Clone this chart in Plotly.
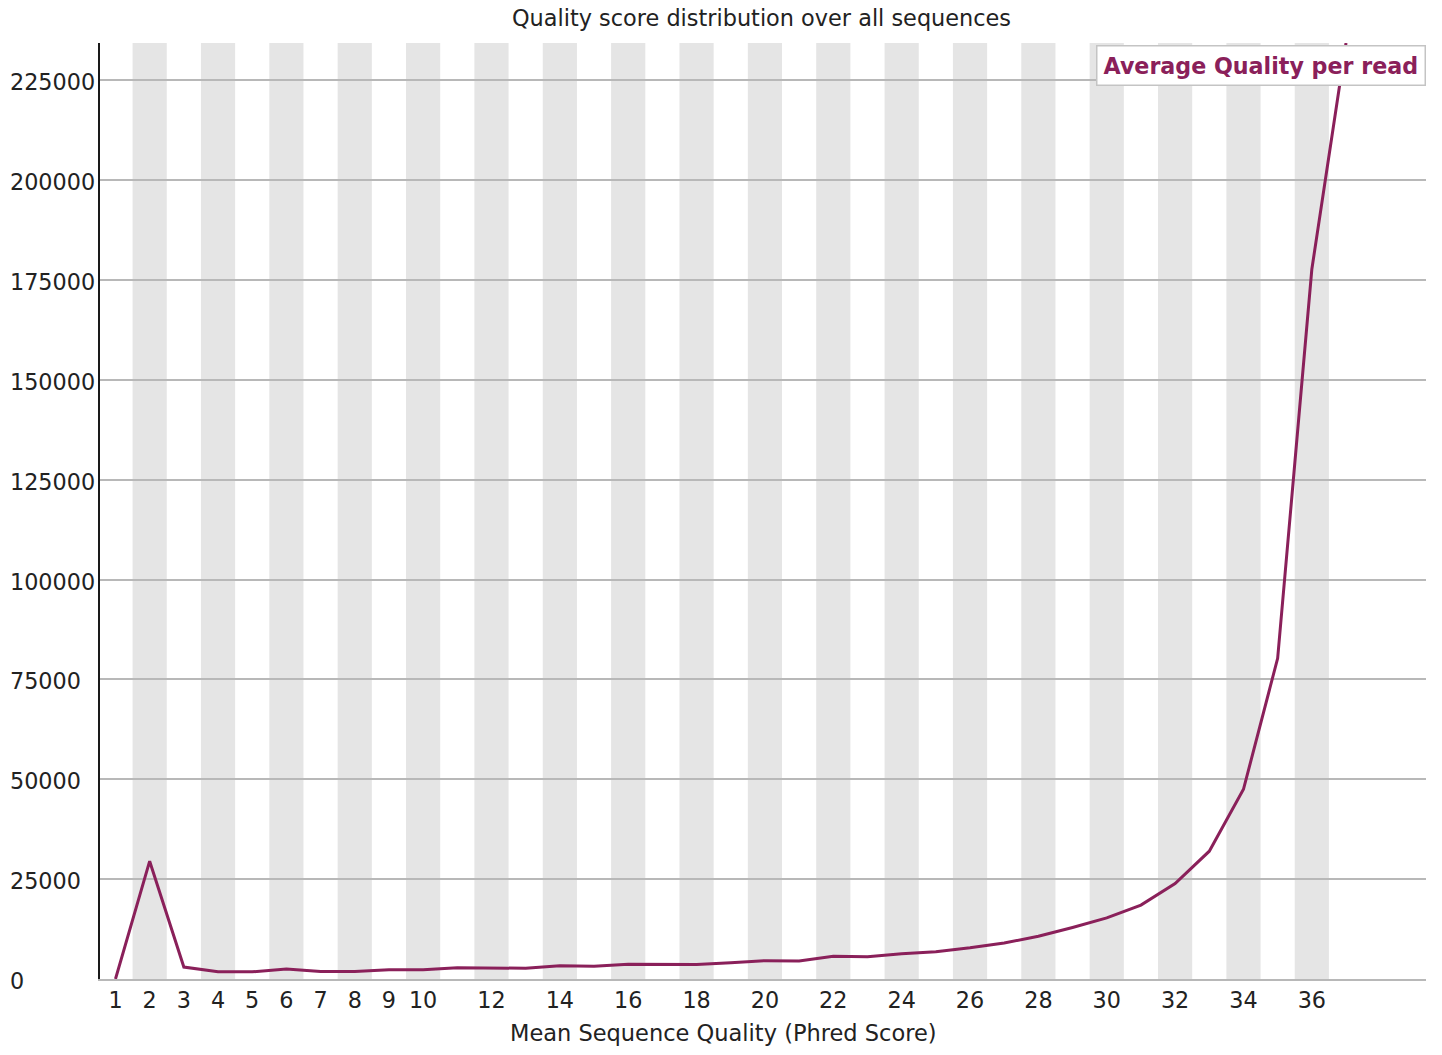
import plotly.graph_objects as go

# Mean sequence quality (Phred) vs number of reads
quality = list(range(1, 38))
read_counts = [
    0, 29500, 3000, 1800, 1800, 2500, 1900, 1900, 2300, 2300,
    2800, 2800, 2700, 3300, 3200, 3700, 3700, 3600, 4100, 4600,
    4500, 5700, 5600, 6300, 6800, 7800, 9000, 10700, 12900, 15300,
    18500, 23900, 32000, 47500, 80300, 177700, 234360,
]
x_tick_vals = list(range(1, 11)) + list(range(12, 37, 2))
y_tick_vals = [0, 25000, 50000, 75000, 100000, 125000, 150000, 175000, 200000, 225000]

LINE_COLOR = "rgb(138,32,90)"
TEXT_COLOR = "#222222"
FONT = "DejaVu Sans"
W, H = 1442, 1055
M_L, M_R, M_T, M_B = 100, 16, 43, 76
PW, PH = W - M_L - M_R, H - M_T - M_B

fig = go.Figure()
fig.add_trace(go.Scatter(
    x=quality, y=read_counts, mode="lines",
    line=dict(color=LINE_COLOR, width=3),
    showlegend=False, hoverinfo="x+y", cliponaxis=True,
))

# alternating grey bands behind even quality scores
shapes = []
for q in quality:
    if q % 2 == 0:
        shapes.append(dict(
            type="rect", xref="x", yref="paper", x0=q - 0.5, x1=q + 0.5, y0=0, y1=1,
            fillcolor="#e5e5e5", line=dict(width=0), layer="below",
        ))

annotations = []
# left-aligned y tick labels
for v in y_tick_vals:
    annotations.append(dict(
        x=-(M_L - 8) / PW, xref="paper", y=v, yref="y", xanchor="left", yanchor="middle",
        yshift=-2, text=str(v), showarrow=False,
        font=dict(family=FONT, size=22.3, color=TEXT_COLOR),
    ))
annotations.append(dict(
    x=(761 - M_L) / PW, xref="paper", y=1 + 25 / PH, yref="paper",
    xanchor="center", yanchor="middle", showarrow=False,
    text="Quality score distribution over all sequences",
    font=dict(family=FONT, size=22.4, color=TEXT_COLOR),
))
annotations.append(dict(
    x=(723 - M_L) / PW, xref="paper", y=-54 / PH, yref="paper",
    xanchor="center", yanchor="middle", showarrow=False,
    text="Mean Sequence Quality (Phred Score)",
    font=dict(family=FONT, size=22.5, color=TEXT_COLOR),
))
annotations.append(dict(
    x=1, xref="paper", y=1 - 2 / PH, yref="paper", xanchor="right", yanchor="top",
    showarrow=False, text="<b>Average Quality per read</b>",
    font=dict(family=FONT, size=22.2, color=LINE_COLOR),
    bgcolor="white", bordercolor="#c4c4c4", borderwidth=1.5, borderpad=6,
))

fig.update_layout(
    width=W, height=H,
    margin=dict(l=M_L, r=M_R, t=M_T, b=M_B),
    paper_bgcolor="white", plot_bgcolor="white",
    shapes=shapes, annotations=annotations,
    xaxis=dict(
        range=[0.547, 39.34], tickmode="array", tickvals=x_tick_vals,
        ticktext=[str(v) for v in x_tick_vals], showgrid=False, zeroline=False,
        showline=True, linecolor="#b8b8b8", linewidth=2,
        ticks="", tickfont=dict(family=FONT, size=22.3, color=TEXT_COLOR),
    ),
    yaxis=dict(
        range=[0, 234360], tickmode="array", tickvals=y_tick_vals,
        showticklabels=False, showgrid=True, gridcolor="#b8b8b8", gridwidth=2,
        zeroline=False, showline=True, linecolor="#1a1a1a", linewidth=2, ticks="",
    ),
)

fig.write_html("out.html")
